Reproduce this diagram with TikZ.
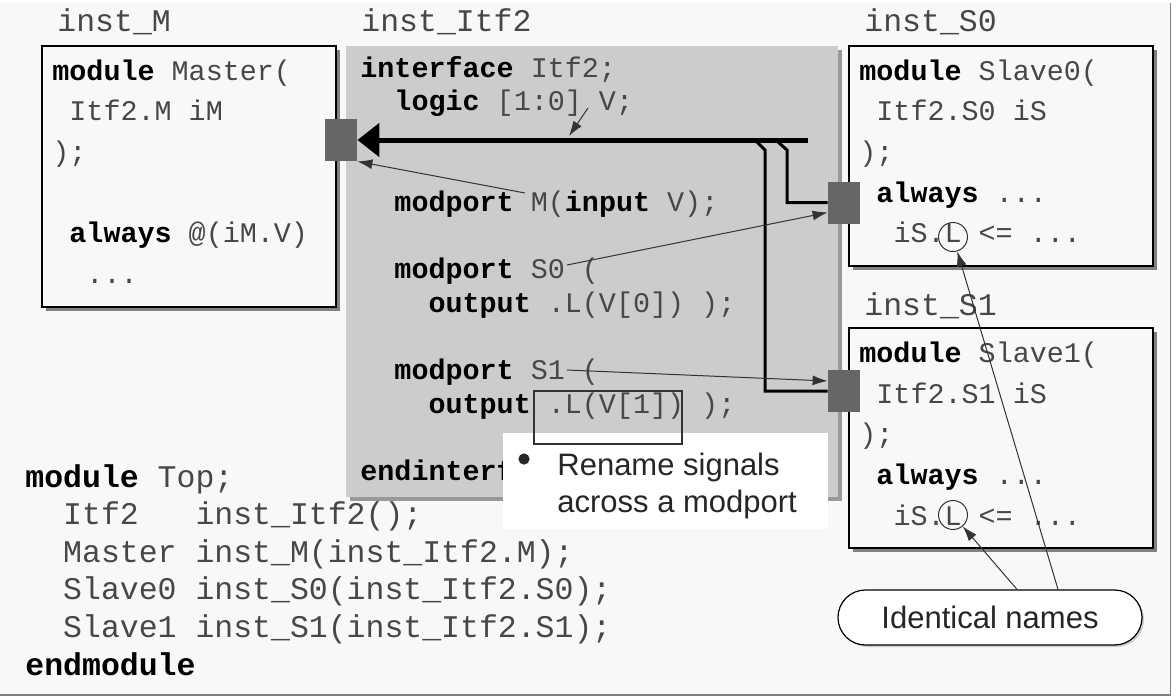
\documentclass[tikz,border=0pt]{standalone}
\usepackage{fontspec}
\setmainfont{Liberation Sans}
\setmonofont{Liberation Mono}
\usetikzlibrary{arrows.meta,shadows}
\definecolor{bgc}{HTML}{F8F8F8}
\definecolor{itfc}{HTML}{CCCCCC}
\definecolor{itfshd}{HTML}{999999}
\definecolor{boxshd}{HTML}{808080}
\definecolor{portc}{HTML}{666666}
\newcommand\kw[1]{\textbf{\color{black}#1}}
\newcommand\tdots{...}
\newcommand\codefont{\ttfamily\fontsize{14.2pt}{17pt}\selectfont}
\newcommand\topfont{\ttfamily\fontsize{15.75pt}{19pt}\selectfont}
\newcommand\notefont{\fontsize{15.5pt}{18.5pt}\selectfont}

\begin{document}
\begin{tikzpicture}[x=0.5pt,y=-0.5pt,
    codeln/.style={anchor=base west,inner sep=0pt,font=\codefont,text=black!72},
    topln/.style={anchor=base west,inner sep=0pt,font=\topfont,text=black!72},
    modbox/.style={draw=black,line width=0.8pt,fill=bgc,
      drop shadow={shadow xshift=2pt,shadow yshift=-2pt,fill=boxshd,opacity=1}},
    port/.style={fill=portc,minimum width=16pt,minimum height=21pt,inner sep=0pt},
    bus/.style={line width=2.5pt,-{Triangle[length=11pt,width=16.5pt]}},
    branch/.style={line width=1.5pt},
    ptr/.style={line width=0.5pt,draw=black!80,-{Latex[length=7.5pt,width=5pt]}},
    sig/.style={circle,draw=black!80,line width=0.5pt,minimum size=14.5pt,inner sep=0pt}]
    \useasboundingbox (0,0) rectangle (1176,696);
    \fill[bgc] (0,3) rectangle (1170.5,695);
    \draw[gray,line width=0.8pt] (1170.5,3) -- (1170.5,695) -- (0,695);

    % boxes
    \draw[modbox] (42,46) rectangle (336,307);
    \fill[itfshd] (350,50) rectangle (842,501);
    \fill[itfc] (346,46) rectangle (838,497);
    \draw[modbox] (849,46) rectangle (1153,266);
    \draw[modbox] (849,328) rectangle (1153,548);

    % instance names
    \node[topln] (lM) at (57,32) {inst\_M};
    \node[topln] (lI) at (361,32) {inst\_Itf2};
    \node[topln] (lS0) at (864,32) {inst\_S0};
    \node[topln] (lS1) at (864,315) {inst\_S1};

    % code
    \foreach \txt [count=\i] in {{\kw{module} Master(}, {\ Itf2.M iM}, {);}, {}, {\ \kw{always} @(iM.V)}, {\ \ \tdots}}
      \node[codeln] (mst\i) at (52,{80+40.7*(\i-1)}) {\txt};
    \foreach \txt [count=\i] in {{\kw{interface} Itf2;}, {\ \ \kw{logic} [1:0] V;}, {}, {}, {\ \ \kw{modport} M(\kw{input} V);}, {}, {\ \ \kw{modport} S0 (}, {\ \ \ \ \kw{output} .L(V[0]) );}, {}, {\ \ \kw{modport} S1 (}, {\ \ \ \ \kw{output} .L(V[1]) );}, {}, {\kw{endinterface}}}
      \node[codeln] (itf\i) at (360,{77+33.6*(\i-1)}) {\txt};
    \foreach \k/\y in {0/80, 1/362.5} {
      \foreach \txt [count=\i] in {{\kw{module} Slave\k(}, {\ Itf2.S\k\ iS}, {);}, {\ \kw{always} \tdots}, {\ \ iS.L <= \tdots}}
        \node[codeln] (s\k-\i) at (859,{\y+40.7*(\i-1)}) {\txt};
    }
    \foreach \txt [count=\i] in {{\kw{module} Top;}, {\ \ Itf2\ \ \ inst\_Itf2();}, {\ \ Master inst\_M(inst\_Itf2.M);}, {\ \ Slave0 inst\_S0(inst\_Itf2.S0);}, {\ \ Slave1 inst\_S1(inst\_Itf2.S1);}, {\kw{endmodule}}}
      \node[topln] (top\i) at (25,{487+37.6*(\i-1)}) {\txt};

    \node[sig] (L0) at (953,237) {};
    \node[sig] (L1) at (953,515) {};

    % ports and bus
    \node[port] (pM) at (341,140) {};
    \node[port] (pS0) at (844,202.5) {};
    \node[port] (pS1) at (844,391) {};
    \coordinate (busR) at (808,140);
    \coordinate (tap1) at (757,142);
    \coordinate (tap2) at (778,142);
    \draw[bus] (busR) -- (pM.east);
    \draw[branch] (tap1) -- ++(8,8) |- (pS1.west);
    \draw[branch] (tap2) -- ++(9,8) |- (pS0.west);

    \coordinate (vV) at (588,108);
    \coordinate (vBus) at (569,136);
    \coordinate (mM) at (525,193);
    \coordinate (mS0) at (567,265);
    \coordinate (mS1) at (567,370);
    \draw[ptr] (vV) -- (vBus);
    \draw[ptr] (mM) -- (pM.south east);
    \draw[ptr] (mS0) -- ([yshift=-5pt]pS0.west);
    \draw[ptr] (mS1) -- ([yshift=5pt]pS1.west);

    % note
    \fill[white] (503,433) rectangle (828,529);
    \fill[black!85] (524,459) circle (2.8pt);
    \node[anchor=base west,inner sep=0pt,font=\notefont,text=black!85] (rn1) at (557,475) {Rename signals};
    \node[anchor=base west,inner sep=0pt,font=\notefont,text=black!85] (rn2) at (557,512) {across a modport};
    \draw[line width=0.6pt,black!80] (534,391) rectangle (682,444);

    \node[draw,line width=0.6pt,fill=white,rounded corners=13.7pt,minimum width=152pt,minimum height=27.5pt,
      font=\notefont,text=black!85,
      drop shadow={shadow xshift=1pt,shadow yshift=-1pt,fill=black!20,opacity=1}] (idn) at (990,617.5) {Identical names};
    \draw[ptr] ([xshift=13.5pt]idn.north) -- (L1);
    \draw[ptr] ([xshift=34pt]idn.north) -- (L0);
\end{tikzpicture}
\end{document}
